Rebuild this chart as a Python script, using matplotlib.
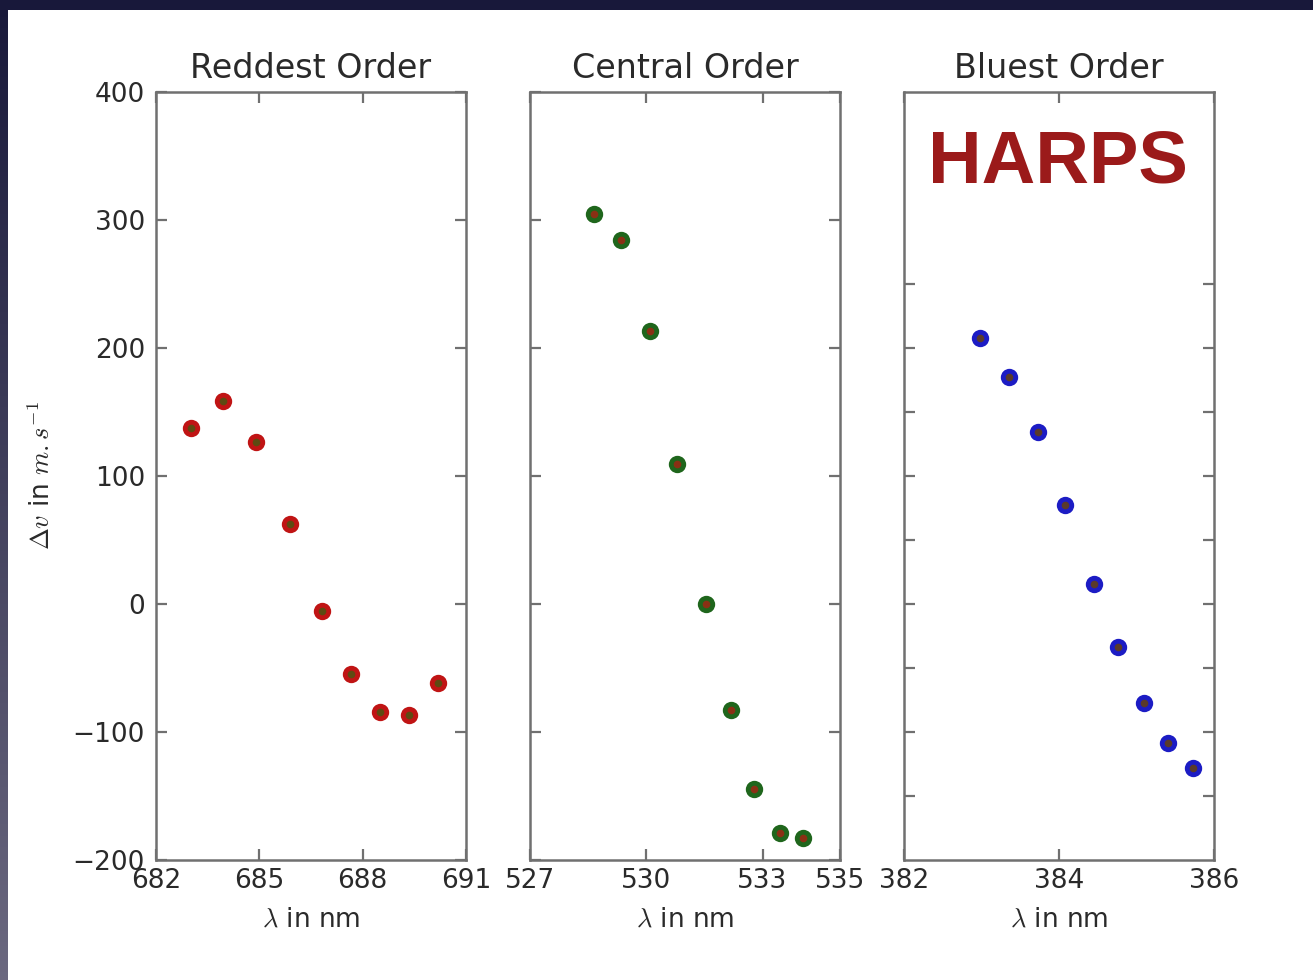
import numpy as np
import matplotlib
matplotlib.use("Agg")
import matplotlib.pyplot as plt
from matplotlib.patches import Rectangle

# Velocity offsets per spectral order
red_wl = [683.02, 683.95, 684.90, 685.89, 686.82, 687.66, 688.50, 689.35, 690.19]
red_dv = [137.5, 158.6, 126.6, 62.5, -5.5, -54.7, -84.4, -86.7, -61.7]

central_wl = [528.65, 529.35, 530.10, 530.80, 531.54, 532.19, 532.78, 533.45, 534.05]
central_dv = [304.7, 284.4, 213.3, 109.4, 0.0, -82.8, -144.5, -178.9, -182.8]

blue_wl = [382.98, 383.35, 383.73, 384.08, 384.45, 384.76, 385.10, 385.40, 385.73]
blue_dv = [208.0, 177.1, 134.4, 77.1, 15.9, -33.6, -77.6, -108.4, -128.4]

titles = ["Reddest Order", "Central Order", "Bluest Order"]
xlims = [(682, 691), (527, 535), (382, 386)]
xticks = [[682, 685, 688, 691], [527, 530, 533, 535], [382, 384, 386]]
yticks_main = [-200, -100, 0, 100, 200, 300, 400]
yticks_blue = [-150, -100, -50, 0, 50, 100, 150, 200, 250]

plt.rcParams["mathtext.fontset"] = "cm"
plt.rcParams["font.family"] = ["DejaVu Sans"]

W, H = 1313, 980
fig = plt.figure(figsize=(W / 100, H / 100), dpi=100, facecolor="white")

# slide frame: dark band on top, graded band on the left
fig.patches.append(Rectangle((0, 1 - 10 / H), 1, 10 / H, transform=fig.transFigure,
                             facecolor="#18183a", edgecolor="none", zorder=0))
strip = fig.add_axes([0, 0, 8 / W, 1 - 10 / H])
grad = np.linspace(0, 1, 256)[:, None]
top_c = np.array([0.10, 0.10, 0.23])
bot_c = np.array([0.42, 0.41, 0.50])
img = top_c[None, None, :] * (1 - grad[:, :, None]) + bot_c[None, None, :] * grad[:, :, None]
strip.imshow(img, aspect="auto", extent=(0, 1, 0, 1), origin="upper")
strip.set_axis_off()

lefts = [156, 530, 904]
bottom = 1 - 860 / H
height = 768 / H
width = 310 / W

series = [
    (red_wl, red_dv, "#c01414", "#5e4a12"),
    (central_wl, central_dv, "#1f661c", "#8a3014"),
    (blue_wl, blue_dv, "#1c1cc4", "#5a3a2a"),
]

spine_c = "#707070"
text_c = "#2a2a2a"
for i, (wl, dv, face, core) in enumerate(series):
    ax = fig.add_axes([lefts[i] / W, bottom, width, height])
    ax.plot(wl, dv, linestyle="none", marker="o", markersize=12.5,
            markerfacecolor=face, markeredgecolor=face, markeredgewidth=0)
    ax.plot(wl, dv, linestyle="none", marker="o", markersize=5.5,
            markerfacecolor=core, markeredgecolor=core, markeredgewidth=0)
    ax.set_xlim(*xlims[i])
    ax.set_ylim(-200, 400)
    ax.set_xticks(xticks[i])
    ax.set_xticklabels([str(t) for t in xticks[i]])
    if i == 2:
        ax.set_yticks(yticks_blue)
    else:
        ax.set_yticks(yticks_main)
    ax.tick_params(direction="in", length=8, width=1.6, color=spine_c,
                   top=True, right=True, labelsize=19, labelcolor=text_c,
                   pad=8)
    ax.tick_params(axis="x", pad=6)
    if i == 0:
        ax.set_yticklabels(["\u2212200", "\u2212100", "0", "100", "200", "300", "400"])
        ax.set_ylabel(r"$\Delta v$ in $m.s^{-1}$", fontsize=19, color=text_c, labelpad=12)
    else:
        ax.set_yticklabels([])
    for s in ax.spines.values():
        s.set_color(spine_c)
        s.set_linewidth(1.8)
    ax.set_title(titles[i], fontsize=24, color=text_c, pad=10)
    ax.set_xlabel(r"$\lambda$ in nm", fontsize=19, color=text_c, labelpad=9)

fig.text(1058 / W, 1 - 183 / H, "HARPS", ha="center", va="baseline",
         fontsize=53.5, fontweight="bold", family="Liberation Sans", color="#9b1a1a")

fig.savefig("out.png", dpi=100, facecolor="white")
